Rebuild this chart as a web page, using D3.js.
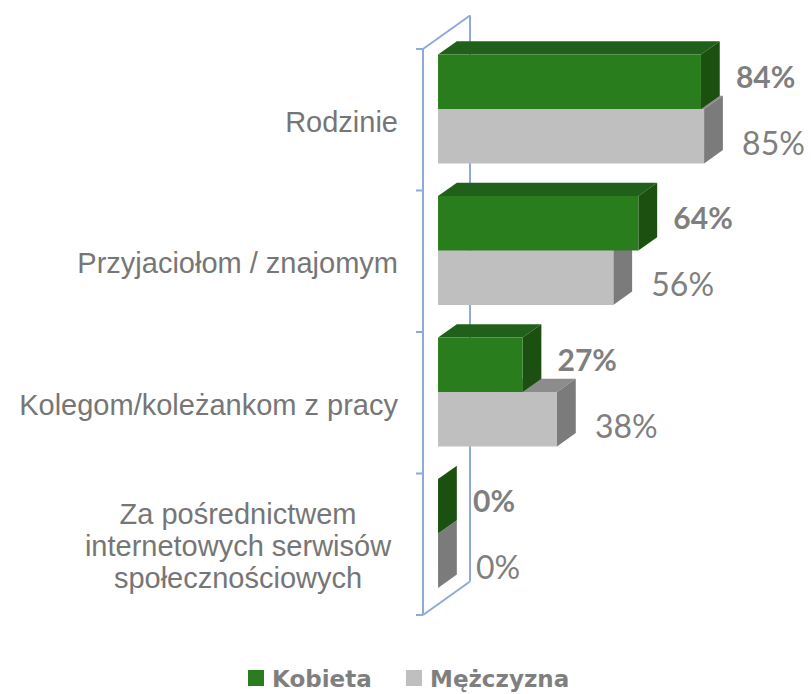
<!DOCTYPE html>
<html>
<head>
<meta charset="utf-8">
<script src="https://cdn.jsdelivr.net/npm/d3@7/dist/d3.min.js"></script>
<style>
  body { margin: 0; background: #fff; }
  svg { display: block; }
</style>
</head>
<body>
<svg width="811" height="694"></svg>
<script>
// data
var categories = ["Rodzinie", "Przyjaciołom / znajomym", "Kolegom/koleżankom z pracy", "Za pośrednictwem internetowych serwisów społecznościowych"];
var categoryLines = [["Rodzinie"], ["Przyjaciołom / znajomym"], ["Kolegom/koleżankom z pracy"], ["Za pośrednictwem", "internetowych serwisów", "społecznościowych"]];
var seriesNames = ["Kobieta", "Mężczyzna"];
var kobieta = [84, 64, 27, 0];
var mezczyzna = [85, 56, 38, 0];

var svg = d3.select("svg");

// 3D look: depth vector of the whole wall, bars sit between two depth fractions
var depthX = 47, depthY = -33.5;
var barFront = 0.32, barBack = 0.72;

var x = d3.scaleLinear().domain([0, 100]).range([423, 736]);
var y = d3.scaleBand().domain(categories).range([49, 615]).paddingInner(0.23).paddingOuter(0.115);
var ySub = d3.scaleBand().domain(seriesNames).range([0, y.bandwidth()]);

var colors = {
  "Kobieta": { front: "#2a7d1c", top: "#21601a", side: "#1b5011" },
  "Mężczyzna": { front: "#bfbfbf", top: "#8c8c8c", side: "#7b7b7b" }
};

function p(px, py, f) { return [px + f * depthX, py + f * depthY]; }

// back wall + axis lines
var axisColor = "#8eaadb";
var wall = svg.append("g").attr("fill", "none").attr("stroke", axisColor).attr("stroke-width", 2);
var yTop = 49, yBot = 615, x0 = x(0);
wall.append("line").attr("x1", x0 + depthX).attr("y1", yTop + depthY).attr("x2", x0 + depthX).attr("y2", yBot + depthY);
wall.append("line").attr("x1", x0).attr("y1", yTop).attr("x2", x0 + depthX).attr("y2", yTop + depthY);
wall.append("line").attr("x1", x0).attr("y1", yBot).attr("x2", x0 + depthX).attr("y2", yBot + depthY);
wall.append("line").attr("x1", x0).attr("y1", yTop).attr("x2", x0).attr("y2", yBot);
var tickYs = categories.map(function(c) { return y(c) - y.step() * y.paddingInner() / 2; }).concat([yBot]);
tickYs[0] = yTop;
wall.selectAll(".tick").data(tickYs).enter().append("line")
    .attr("x1", x0 - 7).attr("x2", x0).attr("y1", function(d) { return d; }).attr("y2", function(d) { return d; });

// build bar list, gray first so green covers its top
var bars = [];
categories.forEach(function(c, i) {
  bars.push({ cat: c, series: "Mężczyzna", value: mezczyzna[i] });
  bars.push({ cat: c, series: "Kobieta", value: kobieta[i] });
});

var gBars = svg.append("g");
bars.forEach(function(d) {
  var top = y(d.cat) + ySub(d.series), bot = top + ySub.bandwidth();
  var xl = x(0), xr = x(d.value);
  var c = colors[d.series];
  var ftl = p(xl, top, barFront), ftr = p(xr, top, barFront), fbr = p(xr, bot, barFront), fbl = p(xl, bot, barFront);
  var btl = p(xl, top, barBack), btr = p(xr, top, barBack), bbr = p(xr, bot, barBack);
  var g = gBars.append("g");
  g.append("polygon").attr("points", [ftl, ftr, btr, btl].join(" ")).attr("fill", c.top);
  g.append("polygon").attr("points", [ftr, btr, bbr, fbr].join(" ")).attr("fill", c.side);
  if (d.value > 0) {
    g.append("polygon").attr("points", [ftl, ftr, fbr, fbl].join(" ")).attr("fill", c.front);
  }
  var isK = d.series === "Kobieta";
  var front = p(xr, (top + bot) / 2, barFront);
  g.append("text")
      .attr("x", front[0] + (isK ? 35 : 38))
      .attr("y", front[1] + (isK ? -6 : 6))
      .attr("dominant-baseline", "central")
      .style("font-family", "Lato, 'Open Sans', sans-serif")
      .style("font-size", isK ? "30px" : "32px")
      .style("font-weight", isK ? "bold" : "normal")
      .style("fill", "#7f7f7f")
      .text(d.value + "%");
});

// category labels
var labels = svg.append("g")
    .style("font-family", "'Liberation Sans', Arial, sans-serif")
    .style("font-size", "29px")
    .style("fill", "#767676");
categories.forEach(function(c, i) {
  var lines = categoryLines[i];
  var cy = y(c) + y.bandwidth() / 2;
  var t = labels.append("text").attr("text-anchor", "middle");
  var spans = lines.map(function(l) {
    return t.append("tspan").text(l);
  });
  var widest = d3.max(t.selectAll("tspan").nodes(), function(n) { return n.getComputedTextLength(); });
  var cx = lines.length > 1 ? 238 : 398 - widest / 2;
  var lh = 32;
  spans.forEach(function(s, k) {
    s.attr("x", cx).attr("y", cy + 12 + (k - (lines.length - 1) / 2) * lh);
  });
});

// legend
var legend = svg.append("g")
    .style("font-family", "'DejaVu Sans', sans-serif")
    .style("font-size", "23px")
    .style("font-weight", "bold")
    .style("fill", "#7f7f7f");
var legendX = [248, 406];
seriesNames.forEach(function(s, i) {
  legend.append("rect").attr("x", legendX[i]).attr("y", 670).attr("width", 16).attr("height", 16)
      .attr("fill", colors[s].front);
  legend.append("text").attr("x", legendX[i] + 24).attr("y", 687).text(s);
});
</script>
</body>
</html>
